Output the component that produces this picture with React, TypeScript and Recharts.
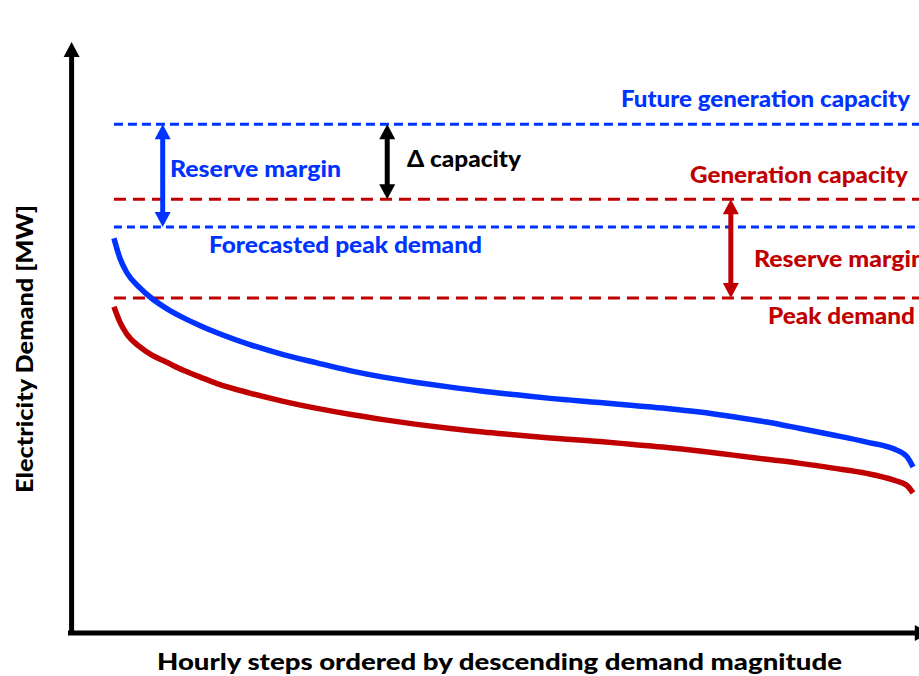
import { Line, LineChart, ReferenceLine, XAxis, YAxis } from "recharts";

// share of hours (sorted), 0 = peak hour
const hours = [
  0, 0.75, 1.6, 3.25, 4.75, 6.6, 8.6, 10.8, 12.9, 17.0, 21.2, 25.4, 29.5,
  33.7, 37.9, 42.1, 46.2, 50.4, 54.6, 60.8, 65.0, 69.2, 73.3, 77.5, 81.7,
  85.9, 90.0, 94.2, 97.5, 99.2, 100,
];

// forecasted demand (blue curve)
const forecastDemand = [
  66.8, 63.4, 61.0, 58.4, 56.6, 54.9, 53.4, 52.0, 50.8, 48.8, 47.1, 45.7,
  44.4, 43.3, 42.4, 41.6, 40.9, 40.3, 39.7, 39.0, 38.5, 38.0, 37.4, 36.6,
  35.7, 34.6, 33.5, 32.3, 31.2, 29.9, 28.1,
];

// current demand (red curve)
const currentDemand = [
  55.2, 52.6, 50.6, 48.4, 47.0, 45.8, 44.5, 43.3, 42.2, 40.6, 39.2, 38.0,
  37.0, 36.1, 35.3, 34.6, 34.0, 33.5, 33.0, 32.4, 31.9, 31.4, 30.8, 30.1,
  29.4, 28.7, 27.9, 27.0, 25.9, 25.0, 23.7,
];

const futureCapacity = 86.1;
const generationCapacity = 73.4;
const forecastPeak = 68.7;
const peakDemand = 56.7;

const rows = hours.map((hour, i) => ({
  hour,
  forecast: forecastDemand[i],
  current: currentDemand[i],
}));

const BLUE = "#0033ff";
const RED = "#c00000";
const FONT = "Lato, 'Open Sans', sans-serif";

const labels = [
  { text: "Future generation capacity", x: 621, y: 107, w: 289, color: BLUE },
  { text: "Generation capacity", x: 690, y: 183, w: 218, color: RED },
  { text: "Reserve margin", x: 754, y: 267, w: 171, color: RED },
  { text: "Peak demand", x: 768, y: 324, w: 147, color: RED },
  { text: "Reserve margin", x: 170, y: 177, w: 171, color: BLUE },
  { text: "\u0394 capacity", x: 407, y: 167, w: 114, color: "#000" },
  { text: "Forecasted peak demand", x: 209, y: 253, w: 273, color: BLUE },
];

function doubleArrow(color: string) {
  return (props: any) => {
    const { x1, y1, y2 } = props;
    const top = Math.min(y1, y2);
    const bot = Math.max(y1, y2);
    const hw = 8;
    const hl = 15;
    return (
      <g>
        <line
          x1={x1}
          x2={x1}
          y1={top + hl - 1}
          y2={bot - hl + 1}
          stroke={color}
          strokeWidth={5}
        />
        <polygon
          points={`${x1},${top} ${x1 - hw},${top + hl} ${x1 + hw},${top + hl}`}
          fill={color}
        />
        <polygon
          points={`${x1},${bot} ${x1 - hw},${bot - hl} ${x1 + hw},${bot - hl}`}
          fill={color}
        />
      </g>
    );
  };
}

function upArrow(props: any) {
  const { x1, y1, y2 } = props;
  const top = Math.min(y1, y2);
  const bot = Math.max(y1, y2);
  return (
    <g>
      <line x1={x1} x2={x1} y1={top + 14} y2={bot + 2} stroke="#000" strokeWidth={5} />
      <polygon points={`${x1},${top} ${x1 - 8},${top + 15} ${x1 + 8},${top + 15}`} fill="#000" />
    </g>
  );
}

function rightArrow(props: any) {
  const { x1, x2, y1 } = props;
  const left = Math.min(x1, x2);
  const right = Math.max(x1, x2);
  return (
    <g>
      <line x1={left - 2} x2={right - 14} y1={y1} y2={y1} stroke="#000" strokeWidth={5} />
      <polygon points={`${right},${y1} ${right - 15},${y1 - 8} ${right - 15},${y1 + 8}`} fill="#000" />
    </g>
  );
}

export default function App() {
  return (
    <div style={{ position: "absolute", left: 0, top: 0 }}>
      <LineChart
        width={919}
        height={676}
        data={rows}
        margin={{ top: 42, right: 0, bottom: 43, left: 70 }}
      >
        <XAxis type="number" dataKey="hour" domain={[-5.5, 100.75]} hide />
        <YAxis type="number" domain={[0, 100]} hide />

        <ReferenceLine
          segment={[{ x: 0, y: futureCapacity }, { x: 100.75, y: futureCapacity }]}
          stroke={BLUE}
          strokeWidth={3}
          strokeDasharray="9 5"
          ifOverflow="visible"
        />
        <ReferenceLine
          segment={[{ x: 0, y: generationCapacity }, { x: 100.75, y: generationCapacity }]}
          stroke={RED}
          strokeWidth={3}
          strokeDasharray="12 7"
          ifOverflow="visible"
        />
        <ReferenceLine
          segment={[{ x: 0, y: forecastPeak }, { x: 100.75, y: forecastPeak }]}
          stroke={BLUE}
          strokeWidth={3}
          strokeDasharray="8 5"
          ifOverflow="visible"
        />
        <ReferenceLine
          segment={[{ x: 0, y: peakDemand }, { x: 100.75, y: peakDemand }]}
          stroke={RED}
          strokeWidth={3}
          strokeDasharray="12 7"
          ifOverflow="visible"
        />

        <Line
          dataKey="forecast"
          type="monotone"
          stroke={BLUE}
          strokeWidth={5.5}
          dot={false}
          isAnimationActive={false}
        />
        <Line
          dataKey="current"
          type="monotone"
          stroke={RED}
          strokeWidth={5.5}
          dot={false}
          isAnimationActive={false}
        />

        <ReferenceLine
          segment={[{ x: 6.1, y: futureCapacity }, { x: 6.1, y: forecastPeak }]}
          shape={doubleArrow(BLUE)}
          ifOverflow="visible"
        />
        <ReferenceLine
          segment={[{ x: 34.2, y: futureCapacity }, { x: 34.2, y: generationCapacity }]}
          shape={doubleArrow("#000")}
          ifOverflow="visible"
        />
        <ReferenceLine
          segment={[{ x: 77.2, y: generationCapacity }, { x: 77.2, y: peakDemand }]}
          shape={doubleArrow(RED)}
          ifOverflow="visible"
        />

        <ReferenceLine
          segment={[{ x: -5.3, y: 0 }, { x: -5.3, y: 100 }]}
          shape={upArrow}
          ifOverflow="visible"
        />
        <ReferenceLine
          segment={[{ x: -5.5, y: 0 }, { x: 102.1, y: 0 }]}
          shape={rightArrow}
          ifOverflow="visible"
        />

        {labels.map((l, i) => (
          <text
            key={i}
            x={l.x}
            y={l.y}
            fill={l.color}
            fontFamily={FONT}
            fontWeight={900}
            fontSize={22}
            textLength={l.w}
            lengthAdjust="spacingAndGlyphs"
          >
            {l.text}
          </text>
        ))}
        <text
          x={157}
          y={670}
          fill="#000"
          fontFamily={FONT}
          fontWeight={900}
          fontSize={22}
          textLength={685}
          lengthAdjust="spacingAndGlyphs"
        >
          Hourly steps ordered by descending demand magnitude
        </text>
        <text
          transform="translate(33,493) rotate(-90)"
          fill="#000"
          fontFamily={FONT}
          fontWeight={900}
          fontSize={22}
          textLength={288}
          lengthAdjust="spacingAndGlyphs"
        >
          Electricity Demand [MW]
        </text>
      </LineChart>
    </div>
  );
}
